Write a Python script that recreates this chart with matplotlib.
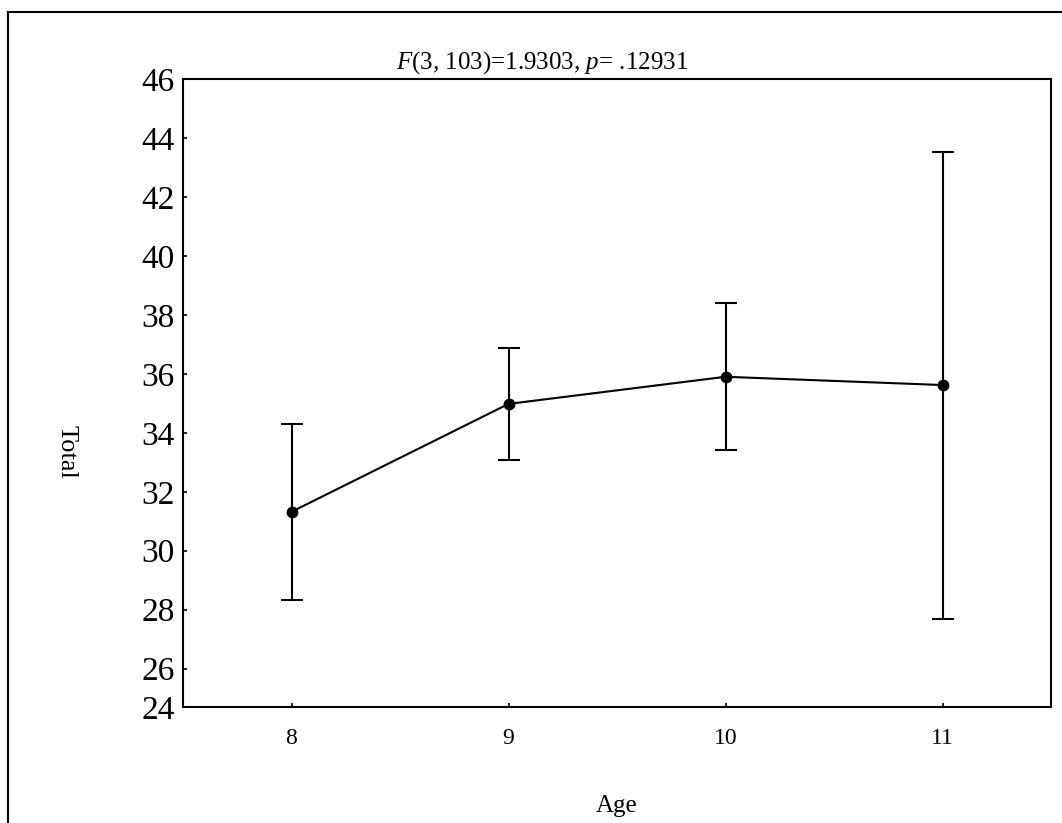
import matplotlib
matplotlib.use('Agg')
import matplotlib.pyplot as plt
from matplotlib.lines import Line2D

# data
ages = [8, 9, 10, 11]
means = [31.32, 34.98, 35.90, 35.62]
errs = [2.98, 1.91, 2.50, 7.92]
ytick_vals = [26, 28, 30, 32, 34, 36, 38, 40, 42, 44, 46]

plt.rcParams['font.family'] = 'Liberation Serif'
plt.rcParams['mathtext.fontset'] = 'custom'
plt.rcParams['mathtext.rm'] = 'Liberation Serif'
plt.rcParams['mathtext.it'] = 'Liberation Serif:italic'

fig = plt.figure(figsize=(10.62, 8.23), dpi=100)
ax = fig.add_axes([183 / 1062, 1 - 707 / 823, 868 / 1062, 628 / 823])

ax.errorbar(ages, means, yerr=errs, color='black', lw=1.5, elinewidth=1.5,
            capsize=8, capthick=1.5, marker='o', markersize=7.5)

ybottom = 24.7
ax.set_xlim(7.5, 11.5)
ax.set_ylim(ybottom, 46)
ax.set_xticks(ages)
ax.set_xticklabels([str(a) for a in ages])
ax.set_yticks([ybottom] + ytick_vals)
ax.set_yticklabels(['24'] + [str(v) for v in ytick_vals])

ax.tick_params(axis='y', direction='in', length=3, width=1.2, labelsize=24, pad=6)
ax.tick_params(axis='x', direction='in', length=3, width=1.2, labelsize=17, pad=15)
for s in ax.spines.values():
    s.set_linewidth(1.5)

# title and axis labels
fig.text(542 / 1062, 1 - 63 / 823, r'$\mathit{F}$(3, 103)=1.9303, $\mathit{p}$= .12931',
         ha='center', va='center', fontsize=18)
fig.text(617 / 1062, 1 - 806 / 823, 'Age', ha='center', va='center', fontsize=18)
fig.text(67 / 1062, 1 - 452 / 823, 'Total', ha='center', va='center',
         fontsize=19, rotation=270)

# outer frame (only left and top edges fall inside the image)
x0 = 7.5 / 1062
y0 = 1 - 11.5 / 823
fig.add_artist(Line2D([x0, x0], [0, y0], transform=fig.transFigure, color='black', lw=1.5))
fig.add_artist(Line2D([x0, 1], [y0, y0], transform=fig.transFigure, color='black', lw=1.5))

fig.savefig('out.png', dpi=100)
